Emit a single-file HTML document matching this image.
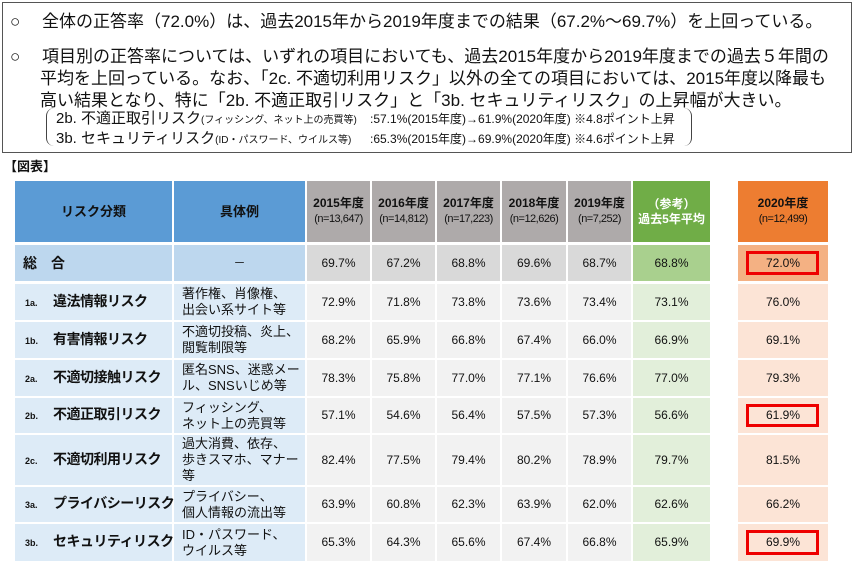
<!DOCTYPE html><html><head><meta charset="utf-8"><style>
body{margin:0;width:857px;height:566px;background:#fff;position:relative;overflow:hidden;font-family:"Liberation Sans","Noto Sans CJK JP",sans-serif;color:#111}
.a{position:absolute;white-space:nowrap}
.box{position:absolute;left:2px;top:2px;width:848px;height:149px;border:1.5px solid #555}
.t{font-size:17px}
.c{position:absolute;display:flex;align-items:center;justify-content:center;text-align:center;font-size:12px;line-height:15px;white-space:nowrap}
.h{font-weight:bold;font-size:12px}
.red{border:3px solid #e00;box-sizing:border-box;position:absolute}
</style></head><body>
<div class="box"></div>
<div class="a t" style="left:10px;top:7px">○　 全体の正答率（72.0%）は、過去2015年から2019年度までの結果（67.2%～69.7%）を上回っている。</div>
<div class="a t" style="left:10px;top:42px">○　 項目別の正答率については、いずれの項目においても、過去2015年度から2019年度までの過去５年間の</div>
<div class="a t" style="left:40px;top:64px">平均を上回っている。なお、「2c. 不適切利用リスク」以外の全ての項目においては、2015年度以降最も</div>
<div class="a t" style="left:40px;top:86px">高い結果となり、特に「2b. 不適正取引リスク」と「3b. セキュリティリスク」の上昇幅が大きい。</div>
<div class="a" style="left:46px;top:108px;width:644px;height:38px;border-left:1.5px solid #444;border-right:1.5px solid #444;border-radius:8px"></div>
<div class="a" style="left:56px;top:107px;font-size:15px">2b. 不適正取引リスク<span style="font-size:10px">(フィッシング、ネット上の売買等)</span></div>
<div class="a" style="left:370px;top:110px;font-size:12px">:57.1%(2015年度)→61.9%(2020年度) ※4.8ポイント上昇</div>
<div class="a" style="left:56px;top:127px;font-size:15px">3b. セキュリティリスク<span style="font-size:10px">(ID・パスワード、ウイルス等)</span></div>
<div class="a" style="left:370px;top:130px;font-size:12px">:65.3%(2015年度)→69.9%(2020年度) ※4.6ポイント上昇</div>
<div class="a" style="left:4px;top:156px;font-size:13px;font-weight:bold">【図表】</div>
<div id="tb"></div>
<script>
var cols=[[15,157],[174,131],[307,63],[372,63],[437,63],[502,64],[568,63],[633,77],[738,90]];
var rows=[[181,61],[245,36],[284,36],[322,36],[360,36],[398,35],[435,50],[487,35],[524,37]];
var N="<span style='font-weight:normal;font-size:11px;letter-spacing:-0.5px'>";
var data=[
["リスク分類","具体例","2015年度<br>"+N+"(n=13,647)</span>","2016年度<br>"+N+"(n=14,812)</span>","2017年度<br>"+N+"(n=17,223)</span>","2018年度<br>"+N+"(n=12,626)</span>","2019年度<br>"+N+"(n=7,252)</span>","（参考）<br>過去5年平均","2020年度<br>"+N+"(n=12,499)</span>"],
["総　合","－","69.7%","67.2%","68.8%","69.6%","68.7%","68.8%","72.0%"],
["1a.|違法情報リスク","著作権、肖像権、<br>出会い系サイト等","72.9%","71.8%","73.8%","73.6%","73.4%","73.1%","76.0%"],
["1b.|有害情報リスク","不適切投稿、炎上、<br>閲覧制限等","68.2%","65.9%","66.8%","67.4%","66.0%","66.9%","69.1%"],
["2a.|不適切接触リスク","匿名SNS、迷惑メー<br>ル、SNSいじめ等","78.3%","75.8%","77.0%","77.1%","76.6%","77.0%","79.3%"],
["2b.|不適正取引リスク","フィッシング、<br>ネット上の売買等","57.1%","54.6%","56.4%","57.5%","57.3%","56.6%","61.9%"],
["2c.|不適切利用リスク","過大消費、依存、<br>歩きスマホ、マナー<br>等","82.4%","77.5%","79.4%","80.2%","78.9%","79.7%","81.5%"],
["3a.|プライバシーリスク","プライバシー、<br>個人情報の流出等","63.9%","60.8%","62.3%","63.9%","62.0%","62.6%","66.2%"],
["3b.|セキュリティリスク","ID・パスワード、<br>ウイルス等","65.3%","64.3%","65.6%","67.4%","66.8%","65.9%","69.9%"]];
var h="";
for(var r=0;r<9;r++)for(var c=0;c<9;c++){
var bg;
if(r==0)bg=c<2?"#5b9bd5":c<7?"#aeaaaa":c==7?"#70ad47":"#ed7d31";
else if(r==1)bg=c<2?"#bdd7ee":c<7?"#d9d9d9":c==7?"#a9d08e":"#f4b183";
else bg=c<2?"#ddebf7":c<7?"#f2f2f2":c==7?"#e2efda":"#fce4d6";
var txt=data[r][c],st="",cls="c";
if(r==0)cls+=" h";
if(r==0&&c==7)st+="color:#fff;";
if(c==0&&r>0){st+="justify-content:flex-start;font-weight:bold;font-size:14px;";
 if(r==1)txt="<span style='margin-left:8px'>総　合</span>";
 else{var p=txt.split("|");txt="<span style='font-size:9px;width:28px;margin-left:10px;display:inline-block;text-align:left'>"+p[0]+"</span><span style='letter-spacing:-0.5px'>"+p[1]+"</span>";}}
if(c==1&&r>1){st+="justify-content:flex-start;text-align:left;font-size:13px;line-height:16px;padding-left:8px;box-sizing:border-box;";}
if(c>1&&r>0)st+="font-size:12px;";
if(r==0&&c<2)st+="font-size:13px;";
h+="<div class='"+cls+"' style='left:"+cols[c][0]+"px;top:"+rows[r][0]+"px;width:"+cols[c][1]+"px;height:"+rows[r][1]+"px;background:"+bg+";"+st+"'><div>"+txt+"</div></div>";
}
[1,5,8].forEach(function(r){h+="<div class='red' style='left:746px;top:"+(rows[r][0]+6)+"px;width:73px;height:"+(rows[r][1]-12)+"px'></div>";});
document.getElementById("tb").innerHTML=h;
</script>
</body></html>
